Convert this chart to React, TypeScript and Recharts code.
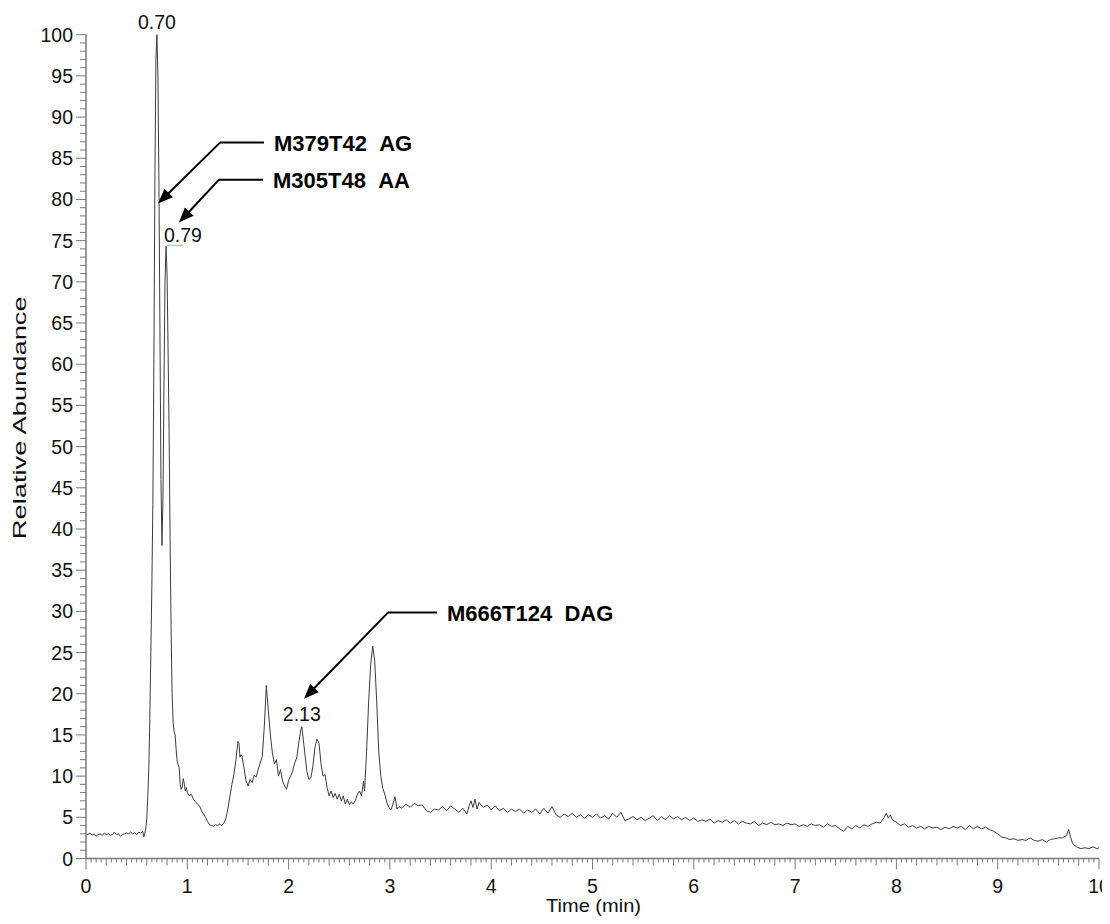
import React from 'react';
import { LineChart, Line, XAxis, YAxis, ReferenceLine, ReferenceDot } from 'recharts';

// Chromatogram trace, [time (min), relative abundance]
const baselineSeg: [number, number][] = [
  [0, 3.0], [0.02, 2.9], [0.04, 3.1], [0.06, 2.8], [0.08, 3.0], [0.1, 2.7], [0.12, 2.9], [0.14, 3.0],
  [0.16, 2.8], [0.18, 3.1], [0.2, 2.9], [0.22, 3.0], [0.24, 2.8], [0.26, 2.9], [0.28, 3.2], [0.3, 2.9],
  [0.32, 3.0], [0.34, 2.7], [0.36, 2.9], [0.38, 3.0], [0.4, 3.1], [0.42, 3.0], [0.44, 3.2], [0.46, 3.0],
  [0.48, 3.1], [0.5, 2.9], [0.52, 3.2], [0.54, 3.1], [0.56, 3.3], [0.57, 2.6], [0.58, 3.0], [0.59, 3.6],
];

const mainPeakSeg: [number, number][] = [
  [0.6, 4.8], [0.61, 7.5], [0.62, 11], [0.63, 17], [0.64, 25], [0.65, 33], [0.66, 43], [0.67, 60],
  [0.68, 82], [0.69, 97], [0.7, 100], [0.71, 95], [0.72, 82], [0.73, 64], [0.74, 46], [0.75, 38],
  [0.76, 44], [0.77, 58], [0.78, 70], [0.79, 74.3], [0.8, 71], [0.81, 62], [0.82, 52], [0.83, 39],
  [0.84, 28], [0.85, 20], [0.86, 16.5], [0.87, 15.4], [0.88, 15], [0.89, 13.2], [0.9, 11.8], [0.91, 11.4],
  [0.92, 11.0], [0.93, 9.0], [0.94, 8.4], [0.95, 8.7], [0.96, 9.7], [0.97, 9.1], [0.98, 8.2], [0.99, 8.6],
  [1.0, 8.0],
];

const midSeg: [number, number][] = [
  [1.02, 7.6], [1.04, 7.8], [1.06, 7.2], [1.08, 6.9], [1.1, 6.6], [1.12, 6.4], [1.14, 5.8], [1.16, 5.4],
  [1.18, 5.0], [1.2, 4.5], [1.22, 4.1], [1.24, 4.0], [1.26, 3.9], [1.28, 4.1], [1.3, 4.0], [1.32, 4.2],
  [1.34, 4.0], [1.36, 4.3], [1.38, 4.8], [1.4, 6.0], [1.42, 7.5], [1.44, 9.0], [1.46, 10.2], [1.48, 12.0],
  [1.5, 14.2], [1.51, 14.0], [1.52, 12.3], [1.53, 12.6], [1.54, 12.4], [1.56, 11.0], [1.58, 9.4], [1.6, 8.8],
  [1.62, 9.6], [1.64, 9.2], [1.66, 10.1], [1.68, 9.9], [1.7, 10.8], [1.72, 11.6], [1.74, 12.4], [1.76, 16.0],
  [1.78, 21.0], [1.79, 19.5], [1.8, 18.0], [1.82, 15.0], [1.84, 12.8], [1.86, 11.5], [1.88, 12.0], [1.9, 10.0],
  [1.92, 10.8], [1.94, 9.4], [1.96, 8.8], [1.98, 8.4], [2.0, 9.5], [2.02, 10.0], [2.04, 10.6], [2.06, 11.6],
  [2.08, 12.2], [2.1, 14.0], [2.12, 15.6], [2.13, 16.0], [2.14, 15.0], [2.16, 12.8], [2.18, 10.6], [2.2, 9.6],
  [2.22, 9.8], [2.24, 11.2], [2.26, 13.5], [2.28, 14.5], [2.3, 14.0], [2.32, 11.5], [2.34, 10.0], [2.36, 10.2],
  [2.38, 8.6], [2.4, 7.6], [2.42, 8.2], [2.44, 7.4], [2.46, 7.9], [2.48, 7.2], [2.5, 7.8], [2.52, 7.0],
  [2.54, 7.6], [2.56, 6.6], [2.58, 7.2], [2.6, 6.5], [2.62, 6.9], [2.64, 6.6], [2.66, 7.1], [2.68, 7.8],
  [2.7, 8.2], [2.72, 7.6], [2.74, 9.4], [2.75, 8.2], [2.77, 13.0], [2.79, 19.0], [2.81, 23.5], [2.83, 25.8],
  [2.85, 24.0], [2.87, 19.0], [2.89, 13.0], [2.91, 10.0], [2.93, 8.5], [2.95, 7.8], [2.97, 6.8], [2.99, 6.2],
  [3.01, 5.9], [3.03, 6.6], [3.05, 7.5], [3.07, 6.0], [3.09, 6.3],
];

const tailSeg: [number, number][] = [
  [3.12, 6.1], [3.16, 6.6], [3.2, 6.2], [3.24, 6.7], [3.28, 6.4], [3.32, 6.5], [3.36, 5.8], [3.4, 5.6],
  [3.44, 6.0], [3.48, 5.9], [3.52, 6.3], [3.56, 5.8], [3.6, 6.4], [3.64, 6.0], [3.68, 5.6], [3.72, 6.1],
  [3.76, 5.4], [3.78, 6.3], [3.8, 7.0], [3.82, 6.2], [3.84, 7.2], [3.86, 6.0], [3.88, 6.8], [3.92, 6.2],
  [3.96, 6.5], [4.0, 5.9], [4.04, 6.4], [4.08, 5.8], [4.12, 6.1], [4.16, 5.6], [4.2, 6.0], [4.24, 5.7],
  [4.28, 6.0], [4.32, 5.5], [4.36, 5.9], [4.4, 5.6], [4.44, 6.0], [4.48, 5.4], [4.52, 6.1], [4.56, 5.5],
  [4.6, 6.3], [4.64, 5.3], [4.68, 5.0], [4.72, 5.4], [4.76, 5.1], [4.8, 5.5], [4.84, 5.0], [4.88, 5.3],
  [4.92, 4.9], [4.96, 5.3], [5.0, 5.0], [5.04, 5.4], [5.08, 4.9], [5.12, 5.2], [5.16, 4.8], [5.2, 5.5],
  [5.24, 5.0], [5.28, 5.6], [5.32, 4.6], [5.36, 4.8], [5.4, 5.1], [5.44, 4.7], [5.48, 5.0], [5.52, 4.6],
  [5.56, 4.9], [5.6, 5.2], [5.64, 4.6], [5.68, 5.1], [5.72, 4.7], [5.76, 5.2], [5.8, 4.8], [5.84, 5.1],
  [5.88, 4.7], [5.92, 5.0], [5.96, 4.6], [6.0, 4.9], [6.04, 4.5], [6.08, 4.7], [6.12, 4.5], [6.16, 4.8],
  [6.2, 4.3], [6.24, 4.6], [6.28, 4.4], [6.32, 4.7], [6.36, 4.3], [6.4, 4.6], [6.44, 4.2], [6.48, 4.5],
  [6.52, 4.3], [6.56, 4.2], [6.6, 4.5], [6.64, 4.0], [6.68, 4.3], [6.72, 4.1], [6.76, 4.4], [6.8, 4.1],
  [6.84, 4.2], [6.88, 4.0], [6.92, 4.3], [6.96, 4.1], [7.0, 4.2], [7.04, 3.9], [7.08, 4.1], [7.12, 3.9],
  [7.16, 4.2], [7.2, 4.0], [7.24, 4.1], [7.28, 3.8], [7.32, 4.2], [7.36, 3.9], [7.4, 4.0], [7.44, 3.6],
  [7.48, 3.3], [7.52, 3.9], [7.56, 3.6], [7.6, 4.0], [7.64, 3.7], [7.68, 4.1], [7.72, 3.9], [7.76, 4.2],
  [7.8, 4.4], [7.84, 4.3], [7.88, 5.0], [7.9, 5.5], [7.92, 4.9], [7.94, 5.3], [7.96, 4.7], [8.0, 4.4],
  [8.04, 4.0], [8.08, 4.2], [8.12, 3.8], [8.16, 4.0], [8.2, 3.7], [8.24, 3.9], [8.28, 3.6], [8.32, 3.9],
  [8.36, 3.7], [8.4, 3.8], [8.44, 3.5], [8.48, 3.8], [8.52, 3.6], [8.56, 3.9], [8.6, 3.7], [8.64, 3.9],
  [8.68, 3.5], [8.72, 4.0], [8.76, 3.6], [8.8, 3.9], [8.84, 3.6], [8.88, 3.8], [8.92, 3.5], [8.96, 3.3],
  [9.0, 3.0], [9.04, 2.6], [9.08, 2.5], [9.12, 2.3], [9.16, 2.4], [9.2, 2.2], [9.24, 2.3], [9.28, 2.2],
  [9.32, 2.5], [9.36, 2.2], [9.4, 2.1], [9.44, 2.3], [9.48, 2.0], [9.52, 2.3], [9.56, 2.4], [9.6, 2.5],
  [9.64, 2.5], [9.68, 2.8], [9.7, 3.5], [9.72, 2.6], [9.74, 1.8], [9.78, 1.4], [9.82, 1.2], [9.86, 1.3],
  [9.9, 1.2], [9.94, 1.4], [9.98, 1.2], [10.0, 1.3],
];

// Peak labels: [time, abundance, text]
const peakLabels: [number, number, string][] = [
  [0.7, 100, '0.70'],
  [0.79, 74.3, '0.79'],
  [2.13, 16.0, '2.13'],
];

// Compound annotations: elbow point, end of horizontal leader, arrow tip, text
const annotations = [
  { name: 'M379T42\u00A0\u00A0AG', elbow: { x: 1.323, y: 86.9 }, end: { x: 1.757, y: 86.9 }, tip: { x: 0.711, y: 79.5 } },
  { name: 'M305T48\u00A0\u00A0AA', elbow: { x: 1.313, y: 82.4 }, end: { x: 1.747, y: 82.4 }, tip: { x: 0.918, y: 77.2 } },
  { name: 'M666T124\u00A0\u00A0DAG', elbow: { x: 2.981, y: 29.85 }, end: { x: 3.465, y: 29.85 }, tip: { x: 2.152, y: 19.4 } },
];

const yTicks = Array.from({ length: 101 }, (_, i) => i);
const xTicks = Array.from({ length: 201 }, (_, i) => i / 20);

const data = [...baselineSeg, ...mainPeakSeg, ...midSeg, ...tailSeg].map(([t, v]) => ({ t, v }));

const FONT = '"Liberation Sans", Arial, sans-serif';
const AXIS = '#7a7a7a';

const YTick = (props: any) => {
  const { x, y, payload } = props;
  const v = payload.value;
  const major = v % 5 === 0;
  return (
    <g>
      <line x1={x - (major ? 10 : 6)} x2={x} y1={y} y2={y} stroke={AXIS} strokeWidth={1} />
      {major && (
        <text x={x - 13} y={y} dy="0.36em" textAnchor="end" fontSize={19.5} fontFamily={FONT} fill="#111">
          {v}
        </text>
      )}
    </g>
  );
};

const XTick = (props: any) => {
  const { x, y, payload } = props;
  const i = Math.round(payload.value * 20);
  const major = i % 20 === 0;
  const medium = i % 4 === 0;
  const len = major ? 11 : medium ? 7 : 4;
  return (
    <g>
      <line x1={x} x2={x} y1={y} y2={y + len} stroke={AXIS} strokeWidth={1} />
      {major && (
        <text x={x} y={y + 27} dy="0.36em" textAnchor="middle" fontSize={19.5} fontFamily={FONT} fill="#111">
          {i / 20}
        </text>
      )}
    </g>
  );
};

const LeaderShape = (label: string) => (props: any) => {
  const { x1, y1, x2, y2 } = props;
  return (
    <g>
      <line x1={x1} y1={y1} x2={x2} y2={y2} stroke="#000" strokeWidth={2} />
      <text x={x2 + 10} y={y2} dy="0.36em" fontSize={22} fontWeight="bold" fontFamily={FONT} fill="#000">
        {label}
      </text>
    </g>
  );
};

const ArrowShape = (props: any) => {
  const { x1, y1, x2, y2 } = props;
  const dx = x2 - x1;
  const dy = y2 - y1;
  const len = Math.sqrt(dx * dx + dy * dy) || 1;
  const ux = dx / len;
  const uy = dy / len;
  const L = 15;
  const W = 6;
  const bx = x2 - ux * L;
  const by = y2 - uy * L;
  const pts = `${x2},${y2} ${bx - uy * W},${by + ux * W} ${bx + uy * W},${by - ux * W}`;
  return (
    <g>
      <line x1={x1} y1={y1} x2={x2 - ux * L * 0.6} y2={y2 - uy * L * 0.6} stroke="#000" strokeWidth={2} />
      <polygon points={pts} fill="#000" />
    </g>
  );
};

const PeakLabel = (text: string) => (props: any) => {
  const { cx, cy } = props;
  if (text === '0.79') {
    return (
      <g>
        <line x1={cx + 1} x2={cx + 17} y1={cy - 1} y2={cy - 1} stroke="#8fd88f" strokeWidth={1} />
        <text x={cx - 2} y={cy - 4} fontSize={19.5} fontFamily={FONT} fill="#111">
          {text}
        </text>
      </g>
    );
  }
  return (
    <text x={cx} y={cy - 6} textAnchor="middle" fontSize={19.5} fontFamily={FONT} fill="#111">
      {text}
    </text>
  );
};

export default function App() {
  return (
    <div style={{ width: 1102, height: 916 }}>
      <LineChart width={1102} height={916} data={data} margin={{ top: 26.7, right: 11, left: 0, bottom: 25.5 }}>
        <XAxis
          dataKey="t"
          type="number"
          domain={[0, 10]}
          ticks={xTicks}
          interval={0}
          tickSize={0}
          tickMargin={0}
          tick={<XTick />}
          axisLine={{ stroke: AXIS, strokeWidth: 1.5 }}
          height={40}
          label={(p: any) => {
            const vb = p.viewBox || {};
            return (
              <text
                x={vb.x + vb.width / 2 + 1}
                y={vb.y + 47}
                dy="0.36em"
                textAnchor="middle"
                fontSize={19}
                fontFamily={FONT}
                fill="#111"
                textLength={95}
                lengthAdjust="spacingAndGlyphs"
              >
                Time (min)
              </text>
            );
          }}
        />
        <YAxis
          type="number"
          domain={[0, 100]}
          ticks={yTicks}
          interval={0}
          tickSize={0}
          tickMargin={0}
          tick={<YTick />}
          axisLine={{ stroke: AXIS, strokeWidth: 1.5 }}
          width={78}
          label={(p: any) => {
            const vb = p.viewBox || {};
            const cx = vb.x + 12;
            const cy = vb.y + vb.height * 0.465;
            return (
              <text
                x={cx}
                y={cy}
                dy="0.36em"
                textAnchor="middle"
                fontSize={18}
                fontFamily={FONT}
                fill="#111"
                textLength={243}
                lengthAdjust="spacingAndGlyphs"
                transform={`rotate(-90 ${cx} ${cy})`}
              >
                Relative Abundance
              </text>
            );
          }}
        />
        <Line
          type="linear"
          dataKey="v"
          stroke="#3c3c3c"
          strokeWidth={1}
          dot={false}
          activeDot={false}
          isAnimationActive={false}
        />
        {annotations.map((a) => (
          <ReferenceLine
            key={a.name + 'h'}
            segment={[a.elbow, a.end]}
            shape={LeaderShape(a.name)}
            ifOverflow="visible"
          />
        ))}
        {annotations.map((a) => (
          <ReferenceLine key={a.name + 'd'} segment={[a.elbow, a.tip]} shape={ArrowShape} ifOverflow="visible" />
        ))}
        {peakLabels.map(([t, v, s]) => (
          <ReferenceDot key={s} x={t} y={v} r={0} shape={PeakLabel(s)} ifOverflow="visible" />
        ))}
      </LineChart>
    </div>
  );
}
